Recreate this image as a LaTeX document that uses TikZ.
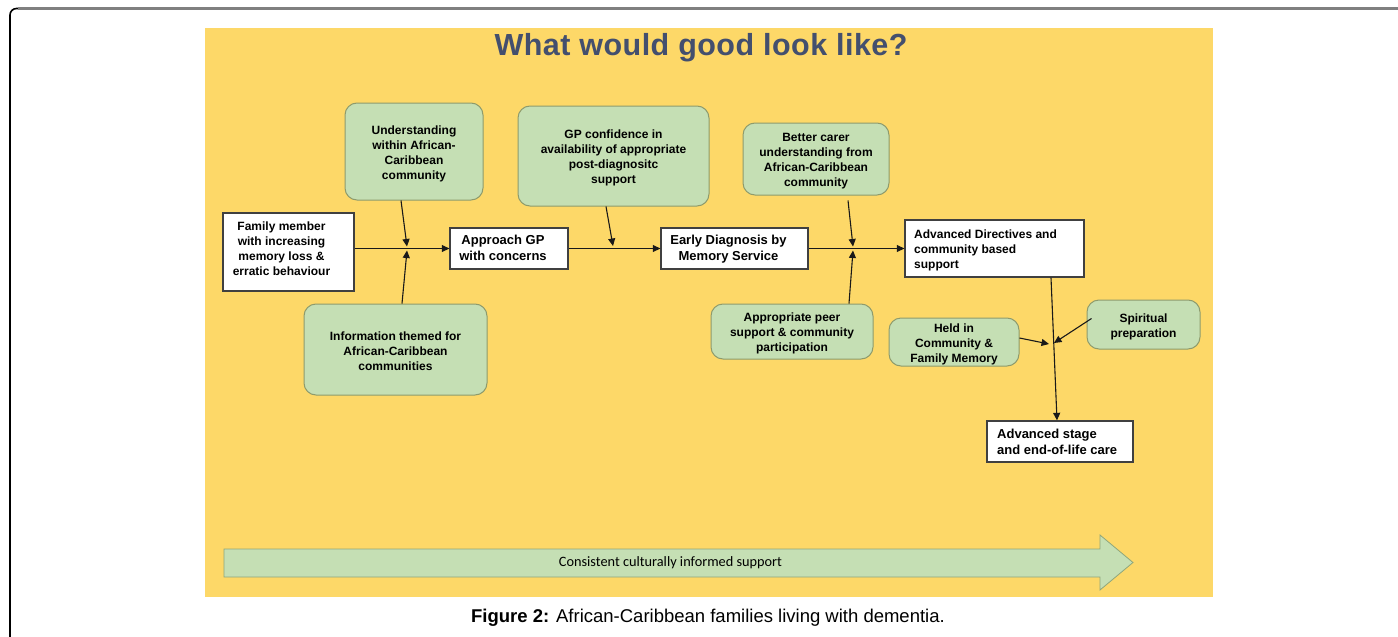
\documentclass[tikz,border=0pt]{standalone}
\usepackage{fontspec}
\setmainfont{Liberation Sans}
\newfontfamily\calib{Carlito}
\usetikzlibrary{arrows.meta}
\definecolor{bgyellow}{HTML}{FDD868}
\definecolor{gfill}{HTML}{C5DFB4}
\definecolor{gborder}{HTML}{8E9B6C}
\definecolor{titlecol}{HTML}{434F6E}
\definecolor{bandborder}{HTML}{8FA67A}
\newcommand{\fstrut}{\rule{0pt}{12.5pt}}
\tikzset{
  gbox/.style={draw=gborder, fill=gfill, rounded corners=12pt, line width=1pt,
    align=center, inner sep=0pt, font=\bfseries\fontsize{12}{15}\selectfont},
  wbox/.style={draw=black!75, fill=white, line width=1.3pt, inner sep=0pt},
  wtext/.style={align=center, inner sep=0pt, font=\bfseries\fontsize{13}{16}\selectfont},
  wtextsmall/.style={align=center, inner sep=0pt, font=\bfseries\fontsize{12}{15}\selectfont},
  conn/.style={line width=1.1pt, draw=black!90, -{Triangle[length=7.5pt,width=7pt]}},
}
\begin{document}
\begin{tikzpicture}[x=1pt,y=-1pt]
\useasboundingbox (0,0) rectangle (1398,637);
% outer frame
\draw[line width=1.6pt, black, rounded corners=6.5pt] (10,637) -- (10,8.5) -- (22,8.5);
\draw[line width=2.5pt, black!50] (18,8.5) -- (1398,8.5);
% yellow panel
\fill[bgyellow] (205,28) rectangle (1213,597);
\node[font=\bfseries\fontsize{30.5}{34}\selectfont\addfontfeature{LetterSpace=1.5}, text=titlecol, inner sep=0pt] (title) at (701,48) {What would good look like?};

% white boxes
\node[wbox, minimum width=131pt, minimum height=78pt] (fam) at (288.5,252) {};
\node[wtextsmall] (famt) at (281.5,249) {Family member\\with increasing\\memory loss \&\\erratic behaviour};
\node[wbox, minimum width=118pt, minimum height=41pt] (appr) at (509,248.5) {};
\node[wtext] (apprt) at (503,247.5) {Approach GP\\with concerns};
\node[wbox, minimum width=147pt, minimum height=41pt] (early) at (734.5,248.5) {};
\node[wtext] (earlyt) at (728.5,249) {Early Diagnosis by\\Memory Service};
\node[wbox, minimum width=179pt, minimum height=57pt] (adv) at (994.5,248.5) {};
\node[wtextsmall, align=left, anchor=west] (advt) at (914,250) {Advanced Directives and\\community based\\support};
\node[wbox, minimum width=146pt, minimum height=41pt] (stage) at (1060,441.5) {};
\node[wtext, align=left, anchor=west] (staget) at (997,442) {Advanced stage\\and end-of-life care};

% green boxes
\node[gbox, minimum width=138pt, minimum height=97pt] (und) at (414,151.5) {\fstrut Understanding\\within African-\\Caribbean\\community};
\node[gbox, minimum width=183pt, minimum height=91pt] (info) at (395.5,349.5) {\fstrut Information themed for\\African-Caribbean\\communities};
\node[gbox, minimum width=191pt, minimum height=100pt] (gpc) at (613.5,156) {\fstrut GP confidence in\\availability of appropriate\\post-diagnositc\\support};
\node[gbox, minimum width=146pt, minimum height=72pt] (carer) at (816,159) {\fstrut Better carer\\understanding from\\African-Caribbean\\community};
\node[gbox, minimum width=162pt, minimum height=55pt] (peer) at (792,331.5) {\fstrut Appropriate peer\\support \& community\\participation};
\node[gbox, minimum width=130pt, minimum height=48pt] (held) at (954,342) {\fstrut Held in\\Community \&\\Family Memory};
\node[gbox, minimum width=113pt, minimum height=49pt] (spir) at (1143.5,324.5) {\fstrut Spiritual\\preparation};

% junction coordinates
\coordinate (j1a) at (407,246.5);
\coordinate (j1b) at (407,250.5);
\coordinate (j2a) at (613,246);
\coordinate (j3a) at (853,246.5);
\coordinate (j3b) at (853,250.5);
\coordinate (j4a) at (1049,344);
\coordinate (j4b) at (1054,343);

% connectors
\draw[conn] (fam.east |- appr.west) -- (appr.west);
\draw[conn] (appr.east |- early.west) -- (early.west);
\draw[conn] (early.east |- adv.west) -- (adv.west);
\draw[conn] ([xshift=-13pt]und.south) -- (j1a);
\draw[conn] ([xshift=6.5pt]info.north) -- (j1b);
\draw[conn] ([xshift=-7.5pt]gpc.south) -- (j2a);
\draw[conn] ([xshift=32pt,yshift=-5pt]carer.south) -- (j3a);
\draw[conn] ([xshift=57pt]peer.north) -- (j3b);
\draw[conn] ([xshift=56.5pt]adv.south) -- ([xshift=-3pt]stage.north);
\draw[conn] ([yshift=4pt]held.east) -- (j4a);
\draw[conn] ([xshift=5pt,yshift=6pt]spir.west) -- (j4b);

% bottom band arrow
\draw[fill=gfill, draw=bandborder, line width=0.8pt]
  (224,549) -- (1100,549) -- (1100,535) -- (1133,562.5) -- (1100,590) -- (1100,577) -- (224,577) -- cycle;
\node[font=\calib\fontsize{14.3}{16}\selectfont, inner sep=0pt] (band) at (670.5,562.5) {Consistent culturally informed support};

% caption
\node[font=\fontsize{18.5}{21}\selectfont, inner sep=0pt] (caption) at (708,618) {\textbf{Figure 2:} African-Caribbean families living with dementia.};
\end{tikzpicture}
\end{document}
